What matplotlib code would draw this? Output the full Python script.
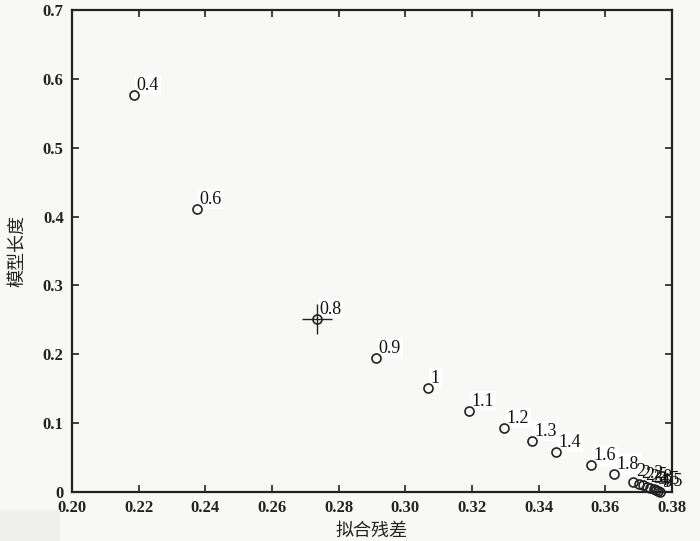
import matplotlib
matplotlib.use("Agg")
import matplotlib.pyplot as plt
from matplotlib.patches import Rectangle

lambdas = ["0.4", "0.6", "0.8", "0.9", "1", "1.1", "1.2", "1.3", "1.4", "1.6", "1.8",
           "2", "2.2", "2.5", "2.8", "3", "3.5", "4", "4.5", "5"]
residual = [0.2186, 0.2375, 0.2735, 0.2912, 0.3068, 0.3191, 0.3296, 0.3380, 0.3452, 0.3557, 0.3626,
            0.3683, 0.3700, 0.3712, 0.3725, 0.3734, 0.3746, 0.3752, 0.3758, 0.3764]
model_len = [0.5766, 0.411, 0.2513, 0.1946, 0.151, 0.1176, 0.0929, 0.074, 0.058, 0.039, 0.026,
             0.0150, 0.012, 0.0095, 0.0073, 0.0058, 0.0044, 0.003, 0.0015, 0.0]
opt_idx = 2
x_ticks = [0.20, 0.22, 0.24, 0.26, 0.28, 0.30, 0.32, 0.34, 0.36, 0.38]
y_ticks = [0, 0.1, 0.2, 0.3, 0.4, 0.5, 0.6, 0.7]
y_ticklabels = ["0", "0.1", "0.2", "0.3", "0.4", "0.5", "0.6", "0.7"]

bg = "#f8f8f6"
fig = plt.figure(figsize=(7.0, 5.41), dpi=100, facecolor=bg)
fig.patches.append(Rectangle((0, 0), 60/700, 31/541, transform=fig.transFigure,
                             facecolor="#efefed", edgecolor="none", zorder=0))
ax = fig.add_axes([72/700, 49/541, 600/700, 482/541])
ax.set_facecolor(bg)

ax.plot(residual, model_len, linestyle="none", marker="o", markersize=6.5,
        markerfacecolor="none", markeredgecolor="#222222", markeredgewidth=1.2,
        clip_on=False, zorder=3)
ax.plot([residual[opt_idx]], [model_len[opt_idx]], linestyle="none", marker="+",
        markersize=21, markeredgewidth=1.0, color="#222222", zorder=4)

for i, (lab, x, y) in enumerate(zip(lambdas, residual, model_len)):
    box = dict(boxstyle="square,pad=0.1", facecolor="white", edgecolor="none") if i < 11 else None
    ax.annotate(lab, (x, y), xytext=(2, 1), textcoords="offset points",
                ha="left", va="bottom", fontsize=13, family="Liberation Serif",
                color="#111111", bbox=box, zorder=2)

ax.set_xlim(0.20, 0.38)
ax.set_ylim(0, 0.7)
ax.set_xticks(x_ticks)
ax.set_xticklabels([f"{v:.2f}" for v in x_ticks])
ax.set_yticks(y_ticks)
ax.set_yticklabels(y_ticklabels)
for lbl in ax.get_xticklabels() + ax.get_yticklabels():
    lbl.set_family("Liberation Serif")
    lbl.set_fontweight("bold")
    lbl.set_fontsize(12)
    lbl.set_color("#222222")
ax.tick_params(direction="in", top=True, right=True, length=5, width=1.2, pad=6,
               colors="#222222")
for s in ax.spines.values():
    s.set_linewidth(1.6)
    s.set_color("#222222")

ax.set_xlabel("拟合残差", family="Noto Sans CJK SC", fontsize=13, labelpad=4, color="#222222")
ax.set_ylabel("模型长度", family="Noto Sans CJK SC", fontsize=13, labelpad=12, color="#222222")

fig.savefig("out.png", dpi=100, facecolor=bg)
